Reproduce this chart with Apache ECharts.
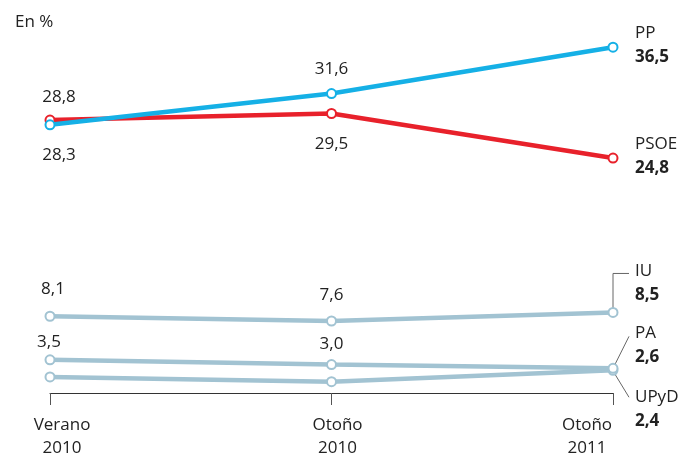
<!DOCTYPE html>
<html>
<head>
<meta charset="utf-8">
<script src="https://cdn.jsdelivr.net/npm/echarts@6/dist/echarts.min.js"></script>
<style>
html,body{margin:0;padding:0;background:#fff;}
#c{width:684px;height:457px;}
</style>
</head>
<body>
<div id="c"></div>
<script>
var categories = ['Verano\n2010', 'Otoño\n2010', 'Otoño\n2011'];
var ppValues = [28.3, 31.6, 36.5];
var psoeValues = [28.8, 29.5, 24.8];
var iuValues = [8.1, 7.6, 8.5];
var paValues = [3.5, 3.0, 2.6];
var upydValues = [1.7, 1.2, 2.4];
var seriesNames = ['PP', 'PSOE', 'IU', 'PA', 'UPyD'];

var FONT = 'Open Sans';
var TXT = '#222';
var fmt = function (v) { return v.toFixed(1).replace('.', ','); };

function pt(v, off, endName) {
  var d = { value: v };
  if (off) {
    d.label = { show: true, position: 'inside', offset: off, formatter: fmt(v),
      color: TXT, fontFamily: FONT, fontSize: 17 };
  }
  if (endName) {
    d.label = { show: true, position: 'inside', align: 'left', verticalAlign: 'middle',
      offset: endName.off,
      formatter: '{n|' + endName.name + '}\n{v|' + fmt(v) + '}',
      rich: {
        n: { color: TXT, fontFamily: FONT, fontSize: 17, lineHeight: 24 },
        v: { color: TXT, fontFamily: FONT, fontSize: 17, fontWeight: 'bold', lineHeight: 24 }
      }
    };
  }
  return d;
}

function mkSeries(name, vals, color, offs, endOff, z) {
  return {
    name: name, type: 'line', z: z,
    data: [
      pt(vals[0], offs[0]),
      pt(vals[1], offs[1]),
      pt(vals[2], null, { name: name, off: endOff })
    ],
    symbol: 'circle', symbolSize: 9,
    lineStyle: { color: color, width: 4.5 },
    itemStyle: { color: '#fff', borderColor: color, borderWidth: 2 },
    emphasis: { disabled: true },
    label: { show: false }
  };
}

var BLUE = '#15b0e6', RED = '#e8212b', GREY = '#a2c3d2';

var chart = echarts.init(document.getElementById('c'));
var labelPads = [[0, 0, 0, 24], [0, 0, 0, 12], [0, 52, 0, 0]];
chart.setOption({
  animation: false,
  grid: { left: 50, right: 71, top: 14, bottom: 64 },
  title: { text: 'En %', left: 10, top: 9,
    textStyle: { color: TXT, fontFamily: FONT, fontSize: 17, fontWeight: 'normal' } },
  xAxis: {
    type: 'category', data: categories, boundaryGap: false,
    axisLine: { lineStyle: { color: '#333', width: 1 } },
    axisTick: { show: true, length: 12, lineStyle: { color: '#555', width: 1 } },
    axisLabel: {
      margin: 21, interval: 0,
      formatter: function (v, i) {
        var p = v.split('\n');
        return '{s' + i + '|' + p[0] + '}\n{s' + i + '|' + p[1] + '}';
      },
      rich: {
        s0: { color: TXT, fontFamily: FONT, fontSize: 17, lineHeight: 23, padding: labelPads[0] },
        s1: { color: TXT, fontFamily: FONT, fontSize: 17, lineHeight: 23, padding: labelPads[1] },
        s2: { color: TXT, fontFamily: FONT, fontSize: 17, lineHeight: 23, padding: labelPads[2] }
      }
    }
  },
  yAxis: { type: 'value', min: 0, max: 40, show: false },
  series: [
    mkSeries('UPyD', upydValues, GREY, [null, null], [22, 39], 2),
    mkSeries('PA', paValues, GREY, [[-1, -18], [0, -20]], [22, -23], 3),
    mkSeries('IU', iuValues, GREY, [[3, -27], [0, -26]], [22, -29], 4),
    mkSeries('PSOE', psoeValues, RED, [[9, -23], [0, 31]], [22, -2], 5),
    mkSeries('PP', ppValues, BLUE, [[9, 30], [0, -24]], [22, -2], 6)
  ]
});

// leader lines for the small parties
var pIU = chart.convertToPixel({ seriesIndex: 2 }, [2, iuValues[2]]);
var pPA = chart.convertToPixel({ seriesIndex: 1 }, [2, paValues[2]]);
var pUP = chart.convertToPixel({ seriesIndex: 0 }, [2, upydValues[2]]);
var ls = { stroke: '#666', lineWidth: 1, fill: null };
chart.setOption({
  graphic: [
    { type: 'polyline', z: 1, shape: { points: [[pIU[0], pIU[1] - 4], [pIU[0], pIU[1] - 39], [pIU[0] + 16, pIU[1] - 39]] }, style: ls },
    { type: 'polyline', z: 1, shape: { points: [[pPA[0] + 2, pPA[1] - 4], [pPA[0] + 16, pPA[1] - 32]] }, style: ls },
    { type: 'polyline', z: 1, shape: { points: [[pUP[0] + 2, pUP[1] + 4], [pUP[0] + 16, pUP[1] + 27]] }, style: ls }
  ]
});
</script>
</body>
</html>
